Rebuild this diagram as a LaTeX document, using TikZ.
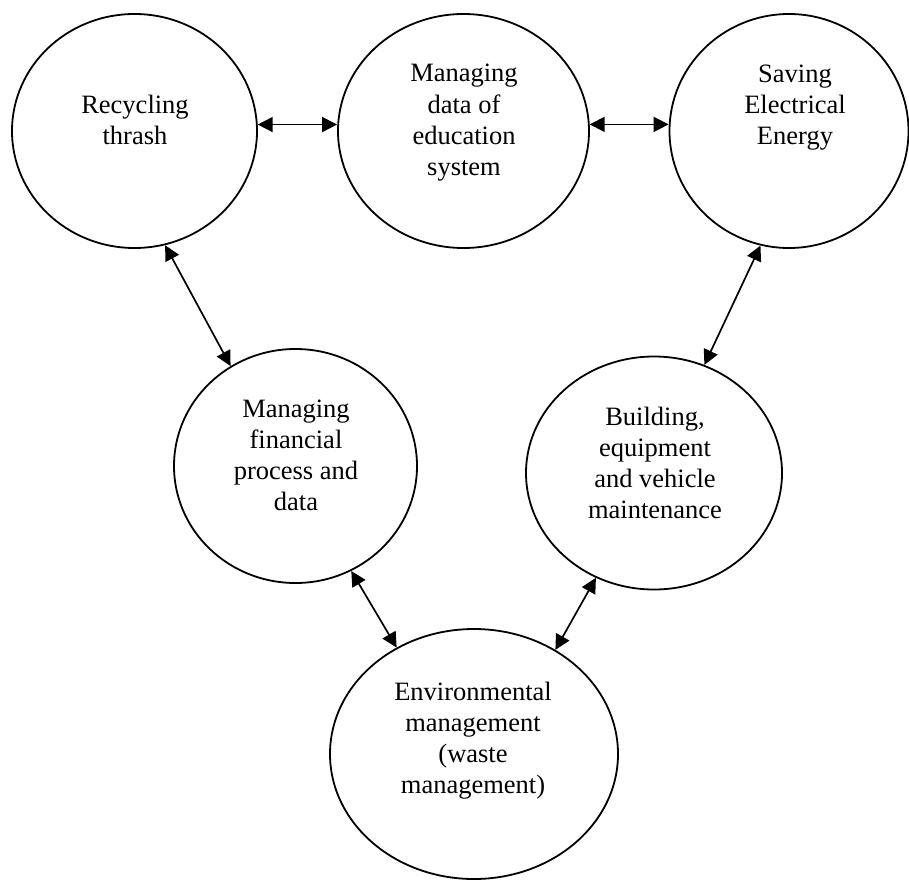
\documentclass[tikz,border=0pt]{standalone}
\usepackage{fontspec}
\setmainfont{Liberation Serif}
\usetikzlibrary{arrows.meta,shapes.geometric}
\begin{document}
\begin{tikzpicture}[x=1pt,y=-1pt,
  bubble/.style={draw,ellipse,line width=1.8pt,inner sep=0pt},
  lbl/.style={align=center,anchor=base,inner sep=0pt,font=\fontsize{26.5}{31}\selectfont},
  link/.style={line width=1.7pt,{Triangle[length=15pt,width=15pt]}-{Triangle[length=15pt,width=15pt]}}]
\clip (0,0) rectangle (909,880);
\node[bubble,minimum width=245pt,minimum height=234pt] (c1) at (134.5,131) {};
\node[bubble,minimum width=251pt,minimum height=234pt] (c2) at (463.5,131) {};
\node[bubble,minimum width=239pt,minimum height=234pt] (c3) at (789,131) {};
\node[bubble,minimum width=243pt,minimum height=234pt] (c4) at (295.5,466) {};
\node[bubble,minimum width=256pt,minimum height=233pt] (c5) at (654,473) {};
\node[bubble,minimum width=288pt,minimum height=250pt] (c6) at (474,754) {};
\node[lbl] (t1) at (135,144) {Recycling\\thrash};
\node[lbl] (t2) at (464,175) {Managing\\data of\\education\\system};
\node[lbl] (t3) at (795,144) {Saving\\Electrical\\Energy};
\node[lbl] (t4) at (296,510) {Managing\\financial\\process and\\data};
\node[lbl] (t5) at (655,518) {Building,\\equipment\\and vehicle\\maintenance};
\node[lbl] (t6) at (473,793) {Environmental\\management\\(waste\\management)};
\draw[link] (c1.3.3) -- (c1.3.3 -| c2.west);
\draw[link] (c2.3.4) -- (c2.3.4 -| c3.west);
\draw[link] (c1.-75.7) -- (c4.123.8);
\draw[link] (c3.-104.5) -- (c5.65.8);
\draw[link] (c4.-62.3) -- (c6.126.5);
\draw[link] (c5.-119) -- (c6.52.8);
\end{tikzpicture}
\end{document}
